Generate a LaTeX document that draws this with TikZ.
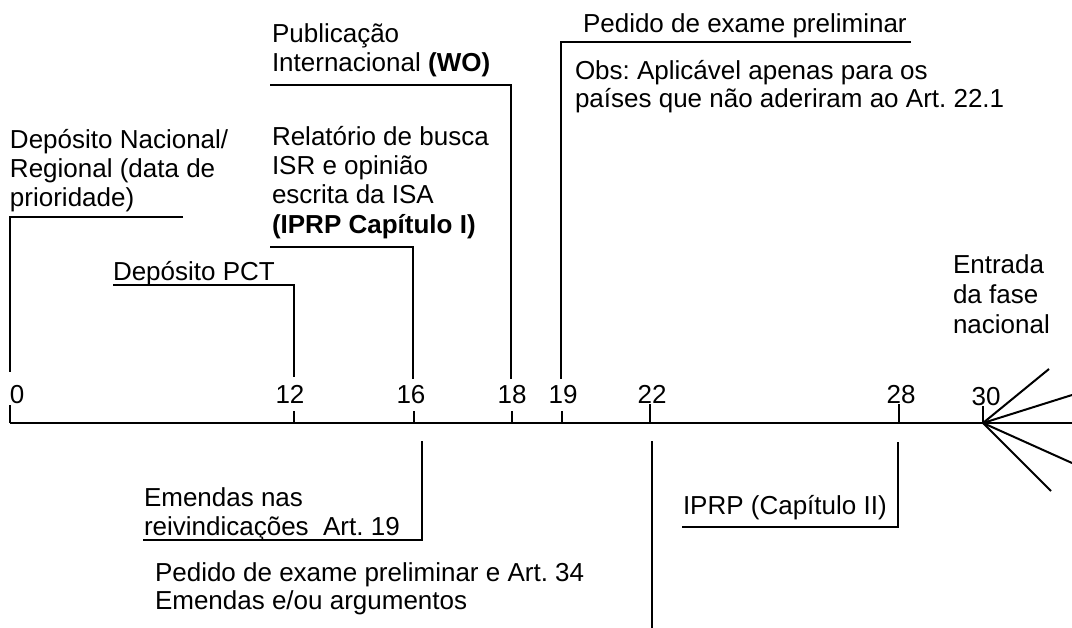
\documentclass[tikz,border=0pt]{standalone}
\usepackage{fontspec}
\setmainfont{Liberation Sans}
\frenchspacing
\newcommand\mlines[1]{\begin{tabular}[t]{@{}l@{}}#1\end{tabular}}
\begin{document}
\frenchspacing
\begin{tikzpicture}[x=0.75pt,y=-0.75pt,line width=1.5pt,
  every node/.style={inner sep=0pt,outer sep=0pt,font=\fontsize{19.5}{22}\selectfont\frenchspacing},
  lbl/.style={anchor=base west},
  num/.style={anchor=base},
  wide/.style={font=\fontsize{19.5}{22.5}\selectfont\frenchspacing}]
\useasboundingbox (0,0) rectangle (1072,628);
% timeline
\coordinate (L) at (10,423);
\coordinate (R) at (1072,423);
\coordinate (hub) at (983,423);
\draw (L) -- (R);
% ticks
\foreach \n/\x/\t in {0/10/405,12/294/411,16/414/411,18/512/411,19/562/411,22/650/404,28/899/404,30/983/406}{
  \coordinate (tk\n) at (\x,\t);
  \coordinate (bs\n) at (\x,423);
  \draw (bs\n) -- (tk\n);
}
% numbers
\node[anchor=base west] (n0) at (10,403) {0};
\node[num] (n12) at (290,403) {12};
\node[num] (n16) at (411,403) {16};
\node[num] (n18) at (512,403) {18};
\node[num] (n19) at (563,403) {19};
\node[num] (n22) at (652,403) {22};
\node[num] (n28) at (901,403) {28};
\node[num] (n30) at (986,405) {30};
% rays
\coordinate (r1) at (1049,369);
\coordinate (r2) at (1072,395);
\coordinate (r3) at (1072,463);
\coordinate (r4) at (1051,491);
\foreach \r in {r1,r2,r3,r4}{\draw (hub) -- (\r);}
% upper labels
\node[lbl] (dn) at (10,148) {\mlines{Depósito Nacional/\\Regional (data de\\prioridade)}};
\node[lbl] (pct) at (113,280) {Depósito PCT};
\node[lbl] (pub) at (272,42) {\mlines{Publicação\\Internacional \textbf{(WO)}}};
\node[lbl] (rel) at (272,145) {\mlines{Relatório de busca\\ISR e opinião\\escrita da ISA\\\textbf{(IPRP Capítulo I)}}};
\node[lbl] (ped) at (583,32) {Pedido de exame preliminar};
\node[lbl,font=\fontsize{19.5}{21}\selectfont\frenchspacing] (obs) at (575,79) {\mlines{Obs: Aplicável apenas para os\\países que não aderiram ao Art. 22.1}};
\node[lbl,wide] (ent) at (953,273) {\mlines{Entrada\\da fase\\nacional}};
% lower labels
\node[lbl] (em19) at (144,506) {\mlines{Emendas nas\\reivindicações\ \ Art. 19}};
\node[lbl,font=\fontsize{19.5}{21}\selectfont\frenchspacing] (emarg) at (155,581) {\mlines{Pedido de exame preliminar e Art. 34\\Emendas e/ou argumentos}};
\node[lbl] (ip2) at (683,514) {IPRP (Capítulo II)};
% upper brackets
\coordinate (dnA) at (183,217); \coordinate (dnB) at (10,217); \coordinate (dnC) at (10,372);
\draw (dnA) -- (dnB) -- (dnC);
\coordinate (pcA) at (113,285); \coordinate (pcB) at (294,285); \coordinate (pcC) at (294,377);
\draw (pcA) -- (pcB) -- (pcC);
\coordinate (reA) at (270,247); \coordinate (reB) at (413,247); \coordinate (reC) at (413,379);
\draw (reA) -- (reB) -- (reC);
\coordinate (puA) at (270,85); \coordinate (puB) at (511,85); \coordinate (puC) at (511,379);
\draw (puA) -- (puB) -- (puC);
\coordinate (peA) at (911,42); \coordinate (peB) at (561,42); \coordinate (peC) at (561,379);
\draw (peA) -- (peB) -- (peC);
% lower brackets
\coordinate (lo16A) at (422,441); \coordinate (lo16B) at (422,540); \coordinate (lo16C) at (143,540);
\draw (lo16A) -- (lo16B) -- (lo16C);
\coordinate (lo22A) at (652,441); \coordinate (lo22B) at (652,628);
\draw (lo22A) -- (lo22B);
\coordinate (lo28A) at (898,442); \coordinate (lo28B) at (898,527); \coordinate (lo28C) at (682,527);
\draw (lo28A) -- (lo28B) -- (lo28C);
\end{tikzpicture}
\end{document}
